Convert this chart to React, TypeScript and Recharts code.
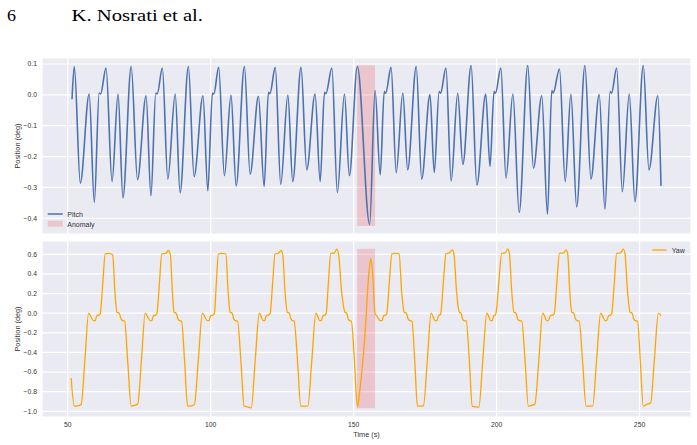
import React from 'react';
import {
  CartesianGrid,
  Line,
  LineChart,
  ReferenceArea,
  XAxis,
  YAxis,
} from 'recharts';

// time axis (s)
const timeTicks = [50, 100, 150, 200, 250];
const timeDomain = [41.0, 268.0];

// pitch position (deg), sampled at turning points of the signal
const pitchTime = [
  51.5, 52.3, 54.4, 57.5, 59.3, 61.0, 61.5, 63.4, 65.5, 67.6,
  69.3, 72.2, 74.4, 77.4, 79.1, 80.8, 81.3, 83.1, 85.0, 87.6,
  89.3, 92.2, 94.2, 97.3, 99.0, 100.6, 101.1, 102.8, 104.8, 107.1,
  108.9, 111.8, 113.8, 116.7, 118.7, 120.2, 120.7, 122.6, 124.5, 127.0,
  128.7, 131.6, 133.6, 136.5, 138.3, 139.8, 140.3, 142.4, 144.3, 146.8,
  148.5, 151.3, 155.6, 157.5, 159.3, 160.7, 161.2, 163.1, 164.9, 167.2,
  168.9, 171.9, 173.8, 176.7, 178.2, 179.9, 180.4, 182.3, 184.1, 186.4,
  188.2, 191.1, 193.1, 196.2, 197.7, 199.1, 199.6, 201.5, 203.3, 205.7,
  207.9, 210.9, 212.9, 215.8, 217.8, 219.3, 219.8, 222.0, 224.0, 226.0,
  228.0, 230.9, 233.0, 235.9, 237.9, 239.7, 240.2, 242.0, 244.0, 246.4,
  248.4, 251.3, 253.3, 256.4, 257.5,
];
const pitchDeg = [
  -0.014, 0.092, -0.286, 0.003, -0.349, 0.006, 0.003, 0.087, -0.281, 0.003,
  -0.333, 0.092, -0.275, -0.003, -0.327, 0.006, 0.003, 0.087, -0.273, 0.003,
  -0.317, 0.092, -0.265, -0.003, -0.311, 0.006, 0.003, 0.089, -0.262, -0.001,
  -0.295, 0.092, -0.257, -0.005, -0.297, 0.008, 0.004, 0.089, -0.29, -0.001,
  -0.281, 0.089, -0.243, 0.003, -0.281, 0.008, 0.004, 0.087, -0.317, 0.003,
  -0.262, 0.092, -0.42, 0.014, -0.259, 0.011, 0.005, 0.089, -0.252, 0.006,
  -0.243, 0.092, -0.273, 0.001, -0.252, 0.011, 0.005, 0.087, -0.279, 0.005,
  -0.225, 0.095, -0.293, 0.003, -0.232, 0.011, 0.005, 0.087, -0.27, 0.003,
  -0.381, 0.095, -0.238, -0.003, -0.387, 0.014, 0.006, 0.084, -0.281, 0.003,
  -0.363, 0.095, -0.273, 0.001, -0.371, 0.011, 0.005, 0.087, -0.314, 0.003,
  -0.346, 0.095, -0.243, -0.003, -0.295,
];

// yaw position (deg), one row per swing
const yawTime = [
  51.2, 52.3, 53.5, 54.7, 56.0,
  57.3, 58.0, 59.0, 59.6, 60.2, 61.0, 61.4, 62.3, 63.1, 64.4, 65.7, 66.5, 67.2, 68.0, 68.7, 69.2, 69.9, 71.0, 72.2, 73.4, 74.5, 75.8,
  77.1, 77.8, 78.8, 79.4, 80.0, 80.8, 81.2, 82.1, 82.9, 84.3, 85.2, 85.9, 86.6, 87.2, 87.9, 88.6, 89.1, 89.8, 90.9, 91.9, 93.1, 94.3, 95.7,
  97.1, 97.8, 98.8, 99.4, 100.0, 100.8, 101.3, 102.0, 102.7, 104.0, 105.3, 106.1, 106.8, 107.5, 108.1, 108.6, 109.4, 110.6, 111.7, 113.0, 114.2, 115.6,
  117.0, 117.6, 118.3, 118.9, 119.4, 120.2, 120.8, 121.7, 122.5, 123.6, 124.6, 125.2, 126.0, 126.8, 127.5, 128.1, 128.6, 129.2, 130.4, 131.5, 132.8, 134.0, 135.4,
  136.8, 137.4, 138.1, 138.7, 139.3, 140.0, 140.4, 141.2, 142.0, 143.3, 144.1, 144.7, 145.8, 147.0, 147.6, 148.1, 148.6, 149.2, 150.3, 151.3,
  152.2, 154.0, 155.3, 156.0, 156.6,
  157.5, 158.2, 159.3, 159.9, 160.5, 161.2, 161.6, 162.5, 163.4, 164.6, 165.9, 166.8, 167.7, 168.4, 169.1, 169.7, 170.4, 171.4, 172.3, 173.4, 174.4, 175.8,
  177.1, 177.7, 178.5, 179.1, 179.7, 180.1, 180.5, 181.4, 182.3, 183.5, 184.5, 185.1, 186.0, 187.0, 187.6, 188.1, 188.6, 189.4, 190.5, 191.5, 192.7, 193.8, 195.2,
  196.6, 197.2, 197.9, 198.5, 199.0, 199.5, 199.8, 200.8, 201.8, 203.0, 203.9, 204.5, 205.3, 206.1, 206.8, 207.4, 208.0, 208.8, 210.0, 211.1, 212.3, 213.4, 214.8,
  216.1, 216.8, 217.5, 218.1, 218.8, 219.7, 220.2, 221.1, 222.0, 223.4, 224.3, 224.9, 225.6, 226.3, 227.0, 227.6, 228.1, 228.9, 230.1, 231.3, 232.5, 233.6, 235.0,
  236.4, 237.1, 237.9, 238.5, 239.2, 239.9, 240.3, 241.2, 242.0, 243.4, 244.3, 244.9, 245.8, 246.7, 247.4, 248.0, 248.5, 249.3, 250.3, 251.3, 252.5, 253.9, 255.2, 256.6, 257.5,
];
const yawDeg = [
  -0.66, -0.948, -0.945, -0.93, -0.48,
  0.0, -0.03, -0.076, -0.076, -0.025, -0.02, 0.0, 0.32, 0.605, 0.61, 0.595, 0.22, 0.01, 0.0, -0.06, -0.076, -0.08, -0.5, -0.948, -0.94, -0.925, -0.47,
  0.0, -0.03, -0.076, -0.076, -0.025, -0.02, 0.0, 0.32, 0.605, 0.61, 0.639, 0.6, 0.22, 0.01, 0.0, -0.06, -0.076, -0.08, -0.5, -0.948, -0.945, -0.93, -0.47,
  0.0, -0.03, -0.076, -0.076, -0.025, -0.02, 0.0, 0.32, 0.605, 0.61, 0.605, 0.22, 0.01, 0.0, -0.06, -0.076, -0.08, -0.5, -0.948, -0.955, -0.965, -0.47,
  0.0, -0.03, -0.076, -0.076, -0.025, -0.02, 0.0, 0.32, 0.605, 0.61, 0.639, 0.6, 0.22, 0.01, 0.0, -0.06, -0.076, -0.08, -0.5, -0.948, -0.948, -0.948, -0.47,
  0.0, -0.03, -0.076, -0.076, -0.025, -0.02, 0.0, 0.32, 0.61, 0.615, 0.653, 0.61, 0.22, 0.01, 0.0, -0.06, -0.076, -0.08, -0.5, -0.958,
  -0.78, -0.2, 0.4, 0.555, 0.42,
  -0.005, -0.03, -0.076, -0.076, -0.025, -0.02, 0.0, 0.32, 0.605, 0.61, 0.605, 0.22, 0.01, 0.0, -0.06, -0.076, -0.08, -0.5, -0.948, -0.948, -0.945, -0.47,
  0.0, -0.03, -0.076, -0.076, -0.025, -0.02, 0.0, 0.32, 0.605, 0.615, 0.646, 0.6, 0.22, 0.01, 0.0, -0.06, -0.076, -0.08, -0.5, -0.948, -0.955, -0.958, -0.47,
  0.0, -0.03, -0.076, -0.076, -0.025, -0.02, 0.0, 0.32, 0.61, 0.615, 0.653, 0.61, 0.22, 0.01, 0.0, -0.06, -0.076, -0.08, -0.5, -0.948, -0.94, -0.925, -0.47,
  0.0, -0.03, -0.076, -0.076, -0.025, -0.02, 0.0, 0.32, 0.61, 0.615, 0.646, 0.6, 0.22, 0.01, 0.0, -0.06, -0.076, -0.08, -0.5, -0.948, -0.948, -0.948, -0.47,
  0.0, -0.03, -0.076, -0.076, -0.025, -0.02, 0.0, 0.32, 0.61, 0.615, 0.653, 0.61, 0.22, 0.01, 0.0, -0.06, -0.076, -0.08, -0.5, -0.948, -0.93, -0.914, -0.47, 0.0, -0.025,
];

const pitchTicks = [0.1, 0.0, -0.1, -0.2, -0.3, -0.4];
const pitchDomain = [-0.451, 0.1195];
const yawTicks = [0.6, 0.4, 0.2, 0.0, -0.2, -0.4, -0.6, -0.8, -1.0];
const yawDomain = [-1.058, 0.736];

// flagged window (s) and the value span it covers in each panel
const anomalyWindow = [151.2, 157.5];
const pitchAnomalySpan = [-0.425, 0.096];
const yawAnomalySpan = [-0.97, 0.656];

const pitchData = pitchTime.map((t, i) => ({ t, v: pitchDeg[i] }));
const yawData = yawTime.map((t, i) => ({ t, v: yawDeg[i] }));

const BG = '#EAEAF2';
const TEXT = '#333333';
const BLUE = '#4C72B0';
const ORANGE = '#FFA500';
const ANOMALY = '#F0323C';
const FONT = '"Liberation Sans", Arial, sans-serif';

const fmt = (v: number) => {
  const s = Math.abs(v).toFixed(1);
  return v < -1e-9 ? '\u2212' + s : s;
};

const tickStyle = { fontSize: 6.8, fill: TEXT, fontFamily: FONT };
// the upper panel keeps its time ticks (they drive the grid) but draws no labels
const EmptyTick = () => <g />;

const App = () => {
  return (
    <div style={{ position: 'absolute', left: 0, top: 0, width: 697, height: 445, background: '#fff' }}>
      {/* pitch panel */}
      <div style={{ position: 'absolute', left: 0, top: 0 }}>
        <LineChart
          width={697}
          height={240}
          data={pitchData}
          margin={{ top: 58, right: 6, left: 0, bottom: 0 }}
        >
          <CartesianGrid fill={BG} fillOpacity={1} stroke="#ffffff" strokeWidth={1.2} />
          <XAxis
            dataKey="t"
            type="number"
            domain={timeDomain}
            ticks={timeTicks}
            allowDataOverflow
            interval={0}
            height={6}
            tick={EmptyTick}
            tickLine={false}
            axisLine={false}
          />
          <YAxis
            type="number"
            domain={pitchDomain}
            ticks={pitchTicks}
            allowDataOverflow
            interval={0}
            width={42}
            tickFormatter={fmt}
            tick={tickStyle}
            tickLine={false}
            axisLine={false}
            tickSize={3}
            tickMargin={2}
          />
          <ReferenceArea
            x1={anomalyWindow[0]}
            x2={anomalyWindow[1]}
            y1={pitchAnomalySpan[0]}
            y2={pitchAnomalySpan[1]}
            fill={ANOMALY}
            fillOpacity={0.2}
            stroke="none"
          />
          <Line
            type="monotone"
            dataKey="v"
            stroke={BLUE}
            strokeWidth={1.6}
            dot={false}
            isAnimationActive={false}
          />
        </LineChart>
      </div>

      {/* yaw panel */}
      <div style={{ position: 'absolute', left: 0, top: 230 }}>
        <LineChart
          width={697}
          height={215}
          data={yawData}
          margin={{ top: 11, right: 6, left: 0, bottom: 0 }}
        >
          <CartesianGrid fill={BG} fillOpacity={1} stroke="#ffffff" strokeWidth={1.2} />
          <XAxis
            dataKey="t"
            type="number"
            domain={timeDomain}
            ticks={timeTicks}
            allowDataOverflow
            interval={0}
            height={28}
            tick={tickStyle}
            tickLine={false}
            axisLine={false}
            tickSize={3}
            tickMargin={2}
          />
          <YAxis
            type="number"
            domain={yawDomain}
            ticks={yawTicks}
            allowDataOverflow
            interval={0}
            width={42}
            tickFormatter={fmt}
            tick={tickStyle}
            tickLine={false}
            axisLine={false}
            tickSize={3}
            tickMargin={2}
          />
          <ReferenceArea
            x1={anomalyWindow[0]}
            x2={anomalyWindow[1]}
            y1={yawAnomalySpan[0]}
            y2={yawAnomalySpan[1]}
            fill={ANOMALY}
            fillOpacity={0.2}
            stroke="none"
          />
          <Line
            type="monotone"
            dataKey="v"
            stroke={ORANGE}
            strokeWidth={1.3}
            dot={false}
            isAnimationActive={false}
          />
        </LineChart>
      </div>

      {/* page header, axis titles and legends */}
      <svg
        width={697}
        height={445}
        style={{ position: 'absolute', left: 0, top: 0, pointerEvents: 'none' }}
      >
        <g fontFamily='"Liberation Serif", "Times New Roman", serif' fontSize={17.5} fill="#000">
          <text x={7} y={20.5} textLength={9} lengthAdjust="spacingAndGlyphs">6</text>
          <text x={71.5} y={20.5} textLength={131.5} lengthAdjust="spacingAndGlyphs">K. Nosrati et al.</text>
        </g>

        <g fontFamily={FONT} fontSize={7.3} fill={TEXT} textAnchor="middle">
          <text transform="translate(19.5,146) rotate(-90)">Position (deg)</text>
          <text transform="translate(19.5,329) rotate(-90)">Position (deg)</text>
          <text x={366.5} y={436.5}>Time (s)</text>
        </g>

        <g fontFamily={FONT} fontSize={7} fill={TEXT}>
          <line x1={47.7} x2={62.7} y1={214} y2={214} stroke={BLUE} strokeWidth={1.5} />
          <text x={67.3} y={216.5}>Pitch</text>
          <rect x={47.7} y={220.7} width={15} height={6} fill={ANOMALY} fillOpacity={0.2} />
          <text x={67.3} y={226.5}>Anomaly</text>

          <line x1={652.3} x2={666.7} y1={250} y2={250} stroke={ORANGE} strokeWidth={1.3} />
          <text x={671.7} y={252.5}>Yaw</text>
        </g>
      </svg>
    </div>
  );
};

export default App;
